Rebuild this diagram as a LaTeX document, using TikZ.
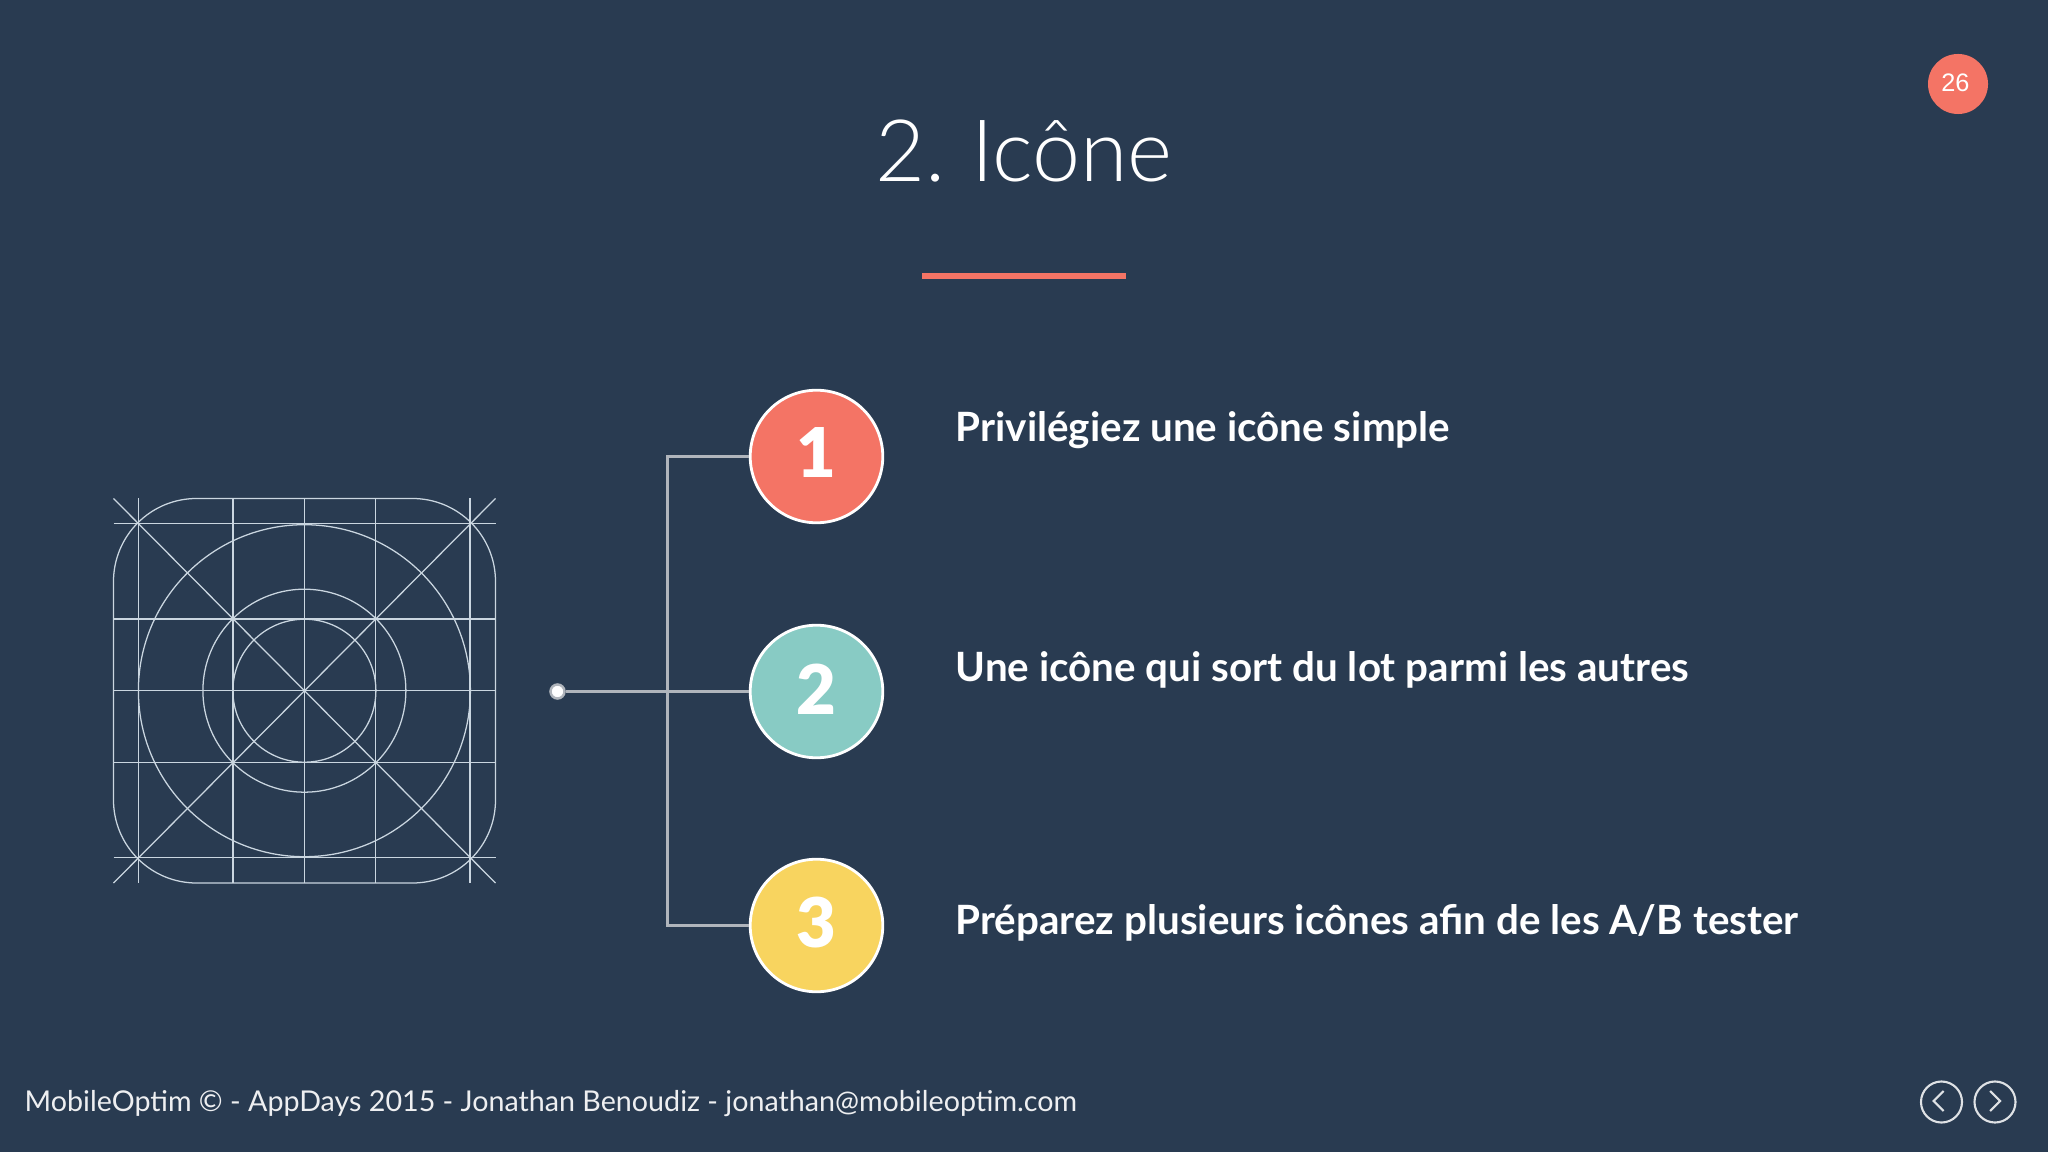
\documentclass[tikz,border=0pt]{standalone}
\usepackage{fontspec}
\setmainfont{Lato}
\newfontfamily\arialfont{Liberation Sans}
\newfontfamily\lightfont{Lato Light}
\newfontfamily\heavyfont{Lato Black}
\definecolor{slidebg}{HTML}{293B51}
\definecolor{gridline}{HTML}{CAD6E0}
\definecolor{wire}{HTML}{B0B5BC}
\definecolor{coral}{HTML}{F47465}
\definecolor{teal}{HTML}{88CBC4}
\definecolor{sun}{HTML}{F8D45F}
\tikzset{
  gridpen/.style={draw=gridline,line width=0.36pt},
  wirepen/.style={draw=wire,line width=0.85pt},
  badge/.style={circle,draw=white,line width=0.8pt,minimum size=1.325cm,inner sep=0pt,text=white,font=\heavyfont\fontsize{19.5}{19.5}\selectfont},
  point/.style={anchor=base west,inner sep=0pt,text=white,font=\bfseries\fontsize{11.48}{14}\selectfont},
  navring/.style={circle,draw=white!85!slidebg,line width=0.6pt,minimum size=0.41cm,inner sep=0pt},
}
\begin{document}
\begin{tikzpicture}[x=0.01cm,y=-0.01cm]
\fill[slidebg] (0,0) rectangle (2048,1152);
\useasboundingbox (0,0) rectangle (2048,1152);
% title
\node[text=white,inner sep=0pt,font=\lightfont\fontsize{24.5}{28}\selectfont] (title) at (1024,151) {2.\hspace{-1.6pt} Icône};
\fill[coral] (922,273) rectangle (1126,279);
% page number
\node[circle,fill=coral,minimum size=0.6cm,inner sep=0pt,text=white,font=\arialfont\fontsize{7.2}{8}\selectfont] (page) at (1958,84) {\raisebox{1pt}{26\hspace{1.5pt}}};
% icon grid
\draw[gridpen,rounded corners=0.83cm] (113.5,498.5) rectangle (495.5,883);
\draw[gridpen] (113.5,498.5) -- (495.5,883);
\draw[gridpen] (495.5,498.5) -- (113.5,883);
\draw[gridpen] (138.7,498.5) -- (138.7,883);
\draw[gridpen] (233,498.5) -- (233,883);
\draw[gridpen] (304.4,498.5) -- (304.4,883);
\draw[gridpen] (375.7,498.5) -- (375.7,883);
\draw[gridpen] (470,498.5) -- (470,883);
\draw[gridpen] (113.5,523.7) -- (495.5,523.7);
\draw[gridpen] (113.5,619) -- (495.5,619);
\draw[gridpen] (113.5,690.7) -- (495.5,690.7);
\draw[gridpen] (113.5,762.7) -- (495.5,762.7);
\draw[gridpen] (113.5,857.7) -- (495.5,857.7);
\draw[gridpen] (304.4,690.7) circle (166);
\draw[gridpen] (304.4,690.7) circle (101.5);
\draw[gridpen] (304.4,690.7) circle (71.5);
% numbered badges
\node[badge,fill=coral] (one) at (816.5,456.5) {\raisebox{2.3pt}{1}};
\node[badge,fill=teal] (two) at (816.5,691.5) {\raisebox{1pt}{2}};
\node[badge,fill=sun] (three) at (816.5,925.5) {\raisebox{2pt}{3}};
% connectors
\node[circle,fill=white,draw=wire,line width=0.7pt,minimum size=0.14cm,inner sep=0pt] (dot) at (557.5,691.5) {};
\coordinate (top) at (667,456.5);
\coordinate (bottom) at (667,925.5);
\draw[wirepen] (dot) -- (two);
\draw[wirepen] (one) -- (top) -- (bottom) -- (three);
% texts
\node[point] (pone) at (955,442) {Privilégiez une icône simple};
\node[point] (ptwo) at (955,681.5) {Une icône qui sort du lot parmi les autres};
\node[point] (pthree) at (955,934) {Préparez plusieurs icônes afin de les A/B tester};
% footer
\node[anchor=base west,inner sep=0pt,text=white!92!slidebg,font=\fontsize{8.15}{10}\selectfont] (footer) at (24,1111) {MobileOptim © - AppDays 2015 - Jonathan Benoudiz - jonathan@mobileoptim.com};
\node[navring] (prev) at (1941.5,1102) {};
\node[navring] (next) at (1995,1102) {};
\draw[draw=white!85!slidebg,line width=0.6pt] (1943.5,1091) -- (1933.5,1101) -- (1943.5,1111);
\draw[draw=white!85!slidebg,line width=0.6pt] (1990,1091) -- (2000,1101) -- (1990,1111);
\end{tikzpicture}
\end{document}
